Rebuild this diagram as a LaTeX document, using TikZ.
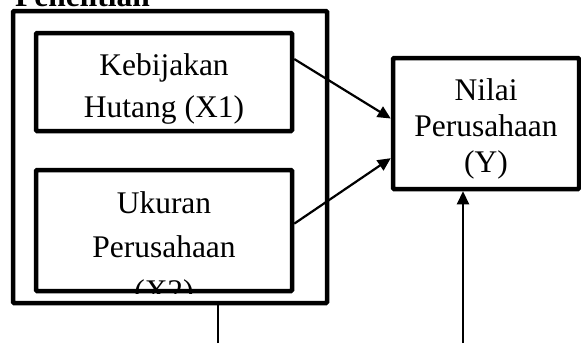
\documentclass[tikz,border=0pt]{standalone}
\usepackage{fontspec}
\setmainfont{Liberation Serif}
\usetikzlibrary{arrows.meta}

\tikzset{
  kotak/.style={draw,line width=4.5pt,rounded corners=1pt,inner sep=0pt},
  panah/.style={line width=2.2pt,-{Triangle[length=13pt,width=12pt]}},
  teks/.style={align=center,inner sep=0pt,anchor=base,
               font=\fontsize{31.5}{42}\selectfont},
}

\begin{document}
\begin{tikzpicture}[x=1pt,y=-1pt]
\useasboundingbox (0,0) rectangle (581,343);

\node[anchor=base west,inner sep=0pt,font=\bfseries\fontsize{31.5}{36}\selectfont]
      (judul) at (15,6) {Penelitian}; % judul terpotong

\node[kotak,minimum width=314pt,minimum height=292pt] (luar) at (170,157) {}; % kotak luar
\node[kotak,minimum width=256pt,minimum height=98pt] (x1) at (164,82) {};
\node[kotak,minimum width=256pt,minimum height=121pt] (x2) at (164,230.5) {};
\node[kotak,minimum width=186pt,minimum height=131pt] (y) at (486,123.5) {};

% anchor base = baris terakhir
\begin{scope}
  \clip (x1.south west) rectangle (x1.north east);
  \node[teks] (x1teks) at (164,117) {Kebijakan\\Hutang (X1)};
\end{scope}
\begin{scope}
  \clip (x2.south west) rectangle (x2.north east);
  \node[teks,font=\fontsize{31.5}{44}\selectfont] (x2teks) at (164,301)
        {Ukuran\\Perusahaan\\(X2)};
\end{scope}
\node[teks,font=\fontsize{31.5}{36}\selectfont] (yteks) at (486,172)
      {Nilai\\Perusahaan\\(Y)};

\draw[panah] (x1.10) -- (y.177);
\draw[panah] (x2.3) -- (y.200);

\coordinate (bawahkiri) at (218,343);
\coordinate (bawahkanan) at (463,343);
\draw[line width=1.3pt] (bawahkiri) -- (bawahkiri |- luar.south);
\draw[panah] (bawahkanan) -- (bawahkanan |- y.south); % garis ke Y
\end{tikzpicture}
\end{document}
